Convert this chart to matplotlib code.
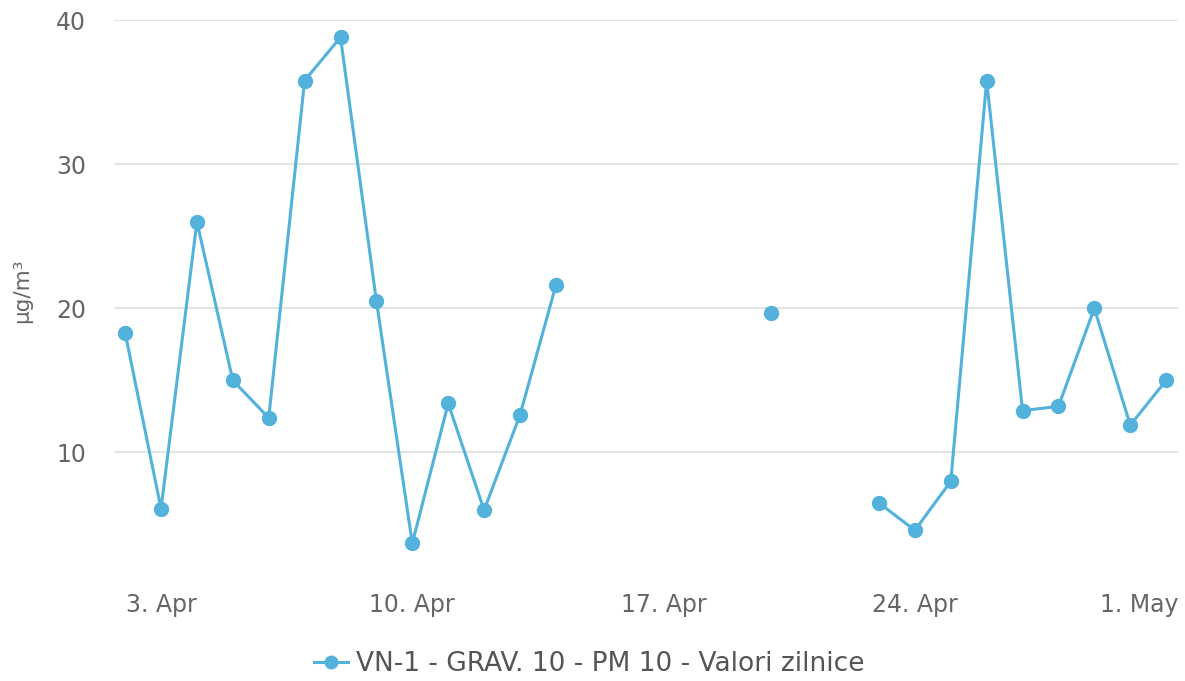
import numpy as np
import pandas as pd
import matplotlib
matplotlib.use("Agg")
import matplotlib.pyplot as plt
import matplotlib.dates as mdates
import matplotlib.transforms as mtransforms

plt.rcParams['font.family'] = ['DejaVu Sans']

dates = pd.date_range("2023-04-02", "2023-05-01", freq="D")
values = [18.3, 6.1, 26.0, 15.0, 12.4, 35.8, 38.8, 20.5, 3.7, 13.4, 6.0, 12.6, 21.6,
          np.nan, np.nan, np.nan, np.nan, np.nan, 19.7, np.nan, np.nan,
          6.5, 4.6, 8.0, 35.8, 12.9, 13.2, 20.0, 11.9, 15.0]
tick_dates = pd.to_datetime(["2023-04-03", "2023-04-10", "2023-04-17", "2023-04-24", "2023-05-01"])
tick_labels = ["3. Apr", "10. Apr", "17. Apr", "24. Apr", "1. May"]
y_ticks = [10, 20, 30, 40]
series_name = "VN-1 - GRAV. 10 - PM 10 - Valori zilnice"
y_label = "µg/m³"

color = "#52b2db"
W, H = 1185, 681
fig = plt.figure(figsize=(W / 100, H / 100), dpi=100)
left, right, top, bottom = 114, 1178, 20, 575
ax = fig.add_axes([left / W, 1 - bottom / H, (right - left) / W, (bottom - top) / H])

ax.plot(dates, values, color=color, lw=2.2, marker="o", ms=10, label=series_name,
        solid_joinstyle="round")

d0 = mdates.date2num(dates[0])
d1 = mdates.date2num(dates[-1])
ax.set_xlim(d0 - 0.31, d1 + 0.33)
ax.set_ylim(1.5, 40)

ax.set_yticks(y_ticks)
ax.set_yticklabels([str(v) for v in y_ticks])
ax.set_xticks(mdates.date2num(tick_dates))
ax.set_xticklabels(tick_labels)

ax.grid(axis="y", color="#e2e2e2", lw=1.3)
ax.set_axisbelow(True)
for s in ax.spines.values():
    s.set_visible(False)
ax.tick_params(axis="both", length=0, colors="#666666", labelsize=17)
ax.tick_params(axis="y", pad=20)
ax.tick_params(axis="x", pad=13)

# shift last x label left so it stays inside the plot
lbls = ax.get_xticklabels()
lbls[-1].set_horizontalalignment("right")
lbls[-1].set_transform(lbls[-1].get_transform() + mtransforms.ScaledTranslation(12 / 100, 0, fig.dpi_scale_trans))

ax.set_ylabel(y_label, color="#666666", fontsize=15.5)
ax.yaxis.set_label_coords(-0.077, 0.513)

leg = fig.legend(loc="center", bbox_to_anchor=(0.497, 1 - 664 / H), frameon=False,
                 fontsize=19, handlelength=1.3, handletextpad=0.3, markerscale=0.9)
for t in leg.get_texts():
    t.set_color("#555555")

fig.savefig("out.png", dpi=100, facecolor="white")
